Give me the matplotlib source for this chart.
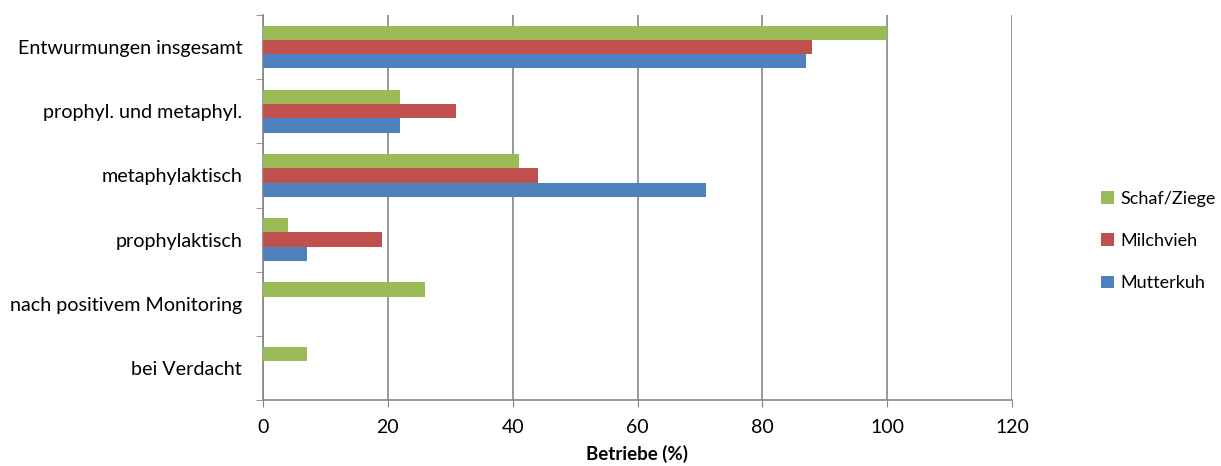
import numpy as np
import matplotlib.pyplot as plt

plt.rcParams['font.family'] = ['Lato', 'DejaVu Sans']

# categories listed bottom to top
categories = ["bei Verdacht", "nach positivem Monitoring", "prophylaktisch",
              "metaphylaktisch", "prophyl. und metaphyl.", "Entwurmungen insgesamt"]
mutterkuh = [0, 0, 7, 71, 22, 87]
milchvieh = [0, 0, 19, 44, 31, 88]
schaf_ziege = [7, 26, 4, 41, 22, 100]

series = [("Mutterkuh", mutterkuh, "#4F81BD"),
          ("Milchvieh", milchvieh, "#C0504D"),
          ("Schaf/Ziege", schaf_ziege, "#9BBB59")]

fig = plt.figure(figsize=(12.21, 4.66), dpi=100)
ax = fig.add_axes([263 / 1221, 66 / 466, 749 / 1221, 385 / 466])

y = np.arange(len(categories))
h = 0.222
handles = []
for i, (name, vals, col) in enumerate(series):
    b = ax.barh(y + (i - 1) * h, vals, height=h, color=col, linewidth=0, zorder=3, label=name)
    handles.append(b)

ax.set_xlim(0, 120)
ax.set_ylim(-0.5, len(categories) - 0.5)
ax.set_xticks(np.arange(0, 121, 20))
ax.tick_params(axis='x', length=5, color='#868686', labelsize=14, pad=9)

# category labels centered, ticks at band boundaries
ax.set_yticks(y)
ax.set_yticklabels(categories, fontsize=14.2)
ax.tick_params(axis='y', which='major', length=0, pad=15)
ax.set_yticks(np.arange(-0.5, len(categories), 1), minor=True)
ax.tick_params(axis='y', which='minor', length=5, color='#868686')

ax.grid(axis='x', color='#868686', linewidth=1.2, zorder=0)
for s in ['top', 'right']:
    ax.spines[s].set_visible(False)
for s in ['left', 'bottom']:
    ax.spines[s].set_color('#868686')
    ax.spines[s].set_linewidth(1.2)

ax.set_xlabel("Betriebe (%)", fontsize=13.5, fontweight='bold', labelpad=6)

ax.legend(handles[::-1], [s[0] for s in series][::-1], loc='center left',
          bbox_to_anchor=(1.119, 0.413), frameon=False, fontsize=13,
          borderpad=0, borderaxespad=0,
          handlelength=0.7, handleheight=0.7, labelspacing=1.45, handletextpad=0.35)

fig.savefig("out.png", dpi=100)
